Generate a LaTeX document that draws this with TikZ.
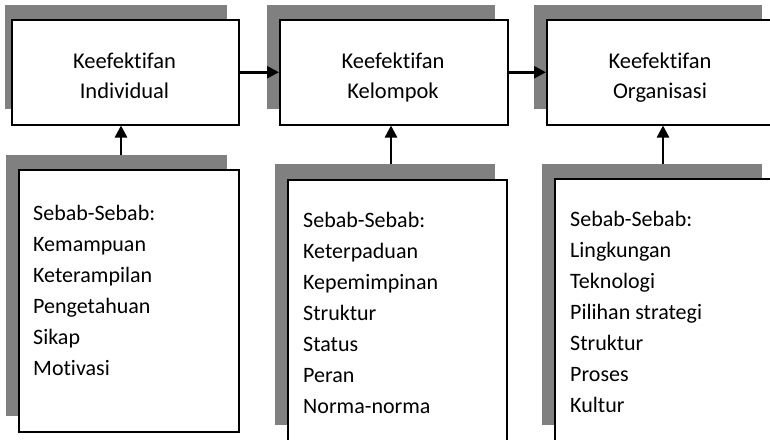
\documentclass[tikz,border=0pt]{standalone}
\usepackage{fontspec}
\setmainfont{Carlito}[Ligatures=NoCommon]
\usetikzlibrary{arrows.meta}
\definecolor{shadegray}{gray}{0.5}
\tikzset{
  box/.style={draw,line width=1.5pt,fill=white,inner sep=0pt,anchor=north west},
  head/.style={inner sep=0pt,align=center,anchor=base,font=\fontsize{22.5pt}{30.5pt}\selectfont},
  list/.style={inner sep=0pt,align=left,anchor=base west,font=\fontsize{22pt}{31pt}\selectfont},
  arr/.style={line width=2.5pt,-{Triangle[length=12pt,width=12pt]}}
}
\begin{document}
\begin{tikzpicture}[x=1pt,y=-1pt]
\useasboundingbox(0,0)rectangle(770,439);
%shadows
\fill[shadegray](5,5)rectangle(227,109);
\fill[shadegray](267,5)rectangle(495,109);
\fill[shadegray](534,5)rectangle(762,109);
\fill[shadegray](6,155)rectangle(227,416);
\fill[shadegray](275,164)rectangle(495,425);
\fill[shadegray](542,164)rectangle(762,425);
%top boxes
\node[box,minimum width=227,minimum height=105](ind)at(11,19){};
\node[box,minimum width=228,minimum height=105](kel)at(279,19){};
\node[box,minimum width=228,minimum height=105](org)at(546,19){};
\node[head](ind-h)at(124.5,98.5){Keefektifan\\Individual};
\node[head](kel-h)at(393,98.5){Keefektifan\\Kelompok};
\node[head](org-h)at(660,98.5){Keefektifan\\Organisasi};
%bottom boxes
\node[box,minimum width=220,minimum height=262](ind-s)at(18,169){};
\node[box,minimum width=219,minimum height=261](kel-s)at(287,179){};
\node[box,minimum width=220,minimum height=262](org-s)at(554,178){};
\node[list](ind-t)at(33,375){Sebab-Sebab:\\Kemampuan\\Keterampilan\\Pengetahuan\\Sikap\\Motivasi};
\node[list](kel-t)at(303,413){Sebab-Sebab:\\Keterpaduan\\Kepemimpinan\\Struktur\\Status\\Peran\\Norma-norma};
\node[list](org-t)at(570,412){Sebab-Sebab:\\Lingkungan\\Teknologi\\Pilihan strategi\\Struktur\\Proses\\Kultur};
%arrows
\coordinate(ind-a)at(121,155);
\coordinate(kel-a)at(391,164);
\coordinate(org-a)at(663,164);
\draw[arr](ind)--(kel);
\draw[arr](kel)--(org);
\draw[arr](ind-a)--(ind-a|-ind.south);
\draw[arr](kel-a)--(kel-a|-kel.south);
\draw[arr](org-a)--(org-a|-org.south);
\end{tikzpicture}
\end{document}
